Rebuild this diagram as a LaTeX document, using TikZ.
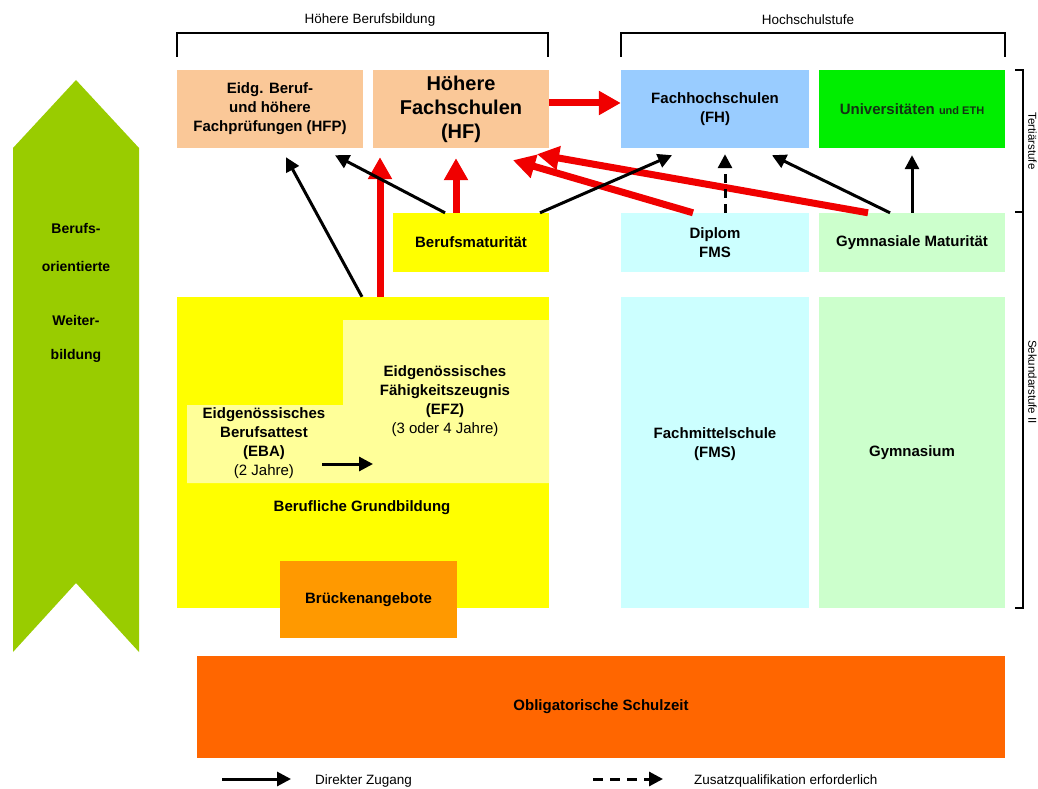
\documentclass[tikz,border=0pt]{standalone}
\usepackage{fontspec}
\setmainfont{Liberation Sans}
\usetikzlibrary{arrows.meta}
\usetikzlibrary{positioning}
\definecolor{peach}{RGB}{250,200,152}
\definecolor{fhblue}{RGB}{153,204,255}
\definecolor{unigreen}{RGB}{0,238,0}
\definecolor{gelb}{RGB}{255,255,0}
\definecolor{hellgelb}{RGB}{255,255,153}
\definecolor{hellcyan}{RGB}{204,255,255}
\definecolor{hellgruen}{RGB}{204,255,204}
\definecolor{brorange}{RGB}{255,153,0}
\definecolor{obligorange}{RGB}{255,102,0}
\definecolor{chevgreen}{RGB}{153,204,0}
\definecolor{pfeilrot}{RGB}{240,0,0}

\begin{document}
\begin{tikzpicture}[x=1pt, y=-1pt,
	box/.style={draw=none, inner sep=0pt, align=center,
		font=\bfseries\fontsize{15}{19}\selectfont},
	txt/.style={inner sep=0pt, align=center, font=\bfseries\fontsize{15}{19}\selectfont},
	small/.style={inner sep=0pt, font=\fontsize{13.5}{16}\selectfont},
	blk/.style={draw=black, line width=3pt, -{Triangle[length=14pt,width=14pt]}},
	rd/.style={draw=pfeilrot, line width=7pt, -{Triangle[length=22pt,width=23pt]}},
	brk/.style={draw=black, line width=1.6pt}]
	\useasboundingbox (0,0) rectangle (1038,789);
	\fill[white] (0,0) rectangle (1038,789);

	% Weiterbildung
	\fill[chevgreen] (13,148) -- (76,80) -- (139,148) -- (139,652) -- (76,583) -- (13,652) -- cycle;
	\node[txt, font=\bfseries\fontsize{14}{17}\selectfont] (wb1) at (76,228) {Berufs-};
	\node[txt, font=\bfseries\fontsize{14}{17}\selectfont] (wb2) at (76,266) {orientierte};
	\node[txt, font=\bfseries\fontsize{14}{17}\selectfont] (wb3) at (76,320) {Weiter-};
	\node[txt, font=\bfseries\fontsize{14}{17}\selectfont] (wb4) at (76,356) {bildung};

	% Klammern oben und rechts
	\draw[brk] (177,57) -- (177,33) -- (548,33) -- (548,57);
	\node[small] (hbb) at (370,20) {Höhere Berufsbildung};
	\draw[brk] (621,57) -- (621,33) -- (1005,33) -- (1005,57);
	\node[small] (hss) at (808,20) {Hochschulstufe};
	\draw[brk] (1015,70) -- (1023,70) -- (1023,608) -- (1015,608);
	\draw[brk] (1015,212) -- (1023,212);
	\node[small, rotate=-90, font=\fontsize{11.5}{13}\selectfont, anchor=north] (ter) at (1037,141) {Tertiärstufe};
	\node[small, rotate=-90, font=\fontsize{11.5}{13}\selectfont, anchor=north] (sek) at (1037,382) {Sekundarstufe II};

	% Tertiaerstufe
	\node[box, fill=peach, minimum width=186pt, minimum height=78pt] (hfp) at (270,109)
		{Eidg. Beruf-\\und höhere\\Fachprüfungen (HFP)};
	\node[box, fill=peach, minimum width=176pt, minimum height=78pt,
		font=\bfseries\fontsize{20}{24}\selectfont] (hf) at (461,109) {Höhere\\Fachschulen\\(HF)};
	\node[box, fill=fhblue, minimum width=188pt, minimum height=78pt] (fh) at (715,109)
		{Fachhochschulen\\(FH)};
	\node[box, fill=unigreen, minimum width=186pt, minimum height=78pt, text={rgb,255:red,20;green,50;blue,20}] (uni) at (912,109)
		{Universitäten {\fontsize{11}{13}\selectfont und ETH}};

	% Abschluesse
	\node[box, fill=gelb, minimum width=156pt, minimum height=59pt] (bm) at (471,242.5) {Berufsmaturität};
	\node[box, fill=hellcyan, minimum width=188pt, minimum height=59pt] (dfms) at (715,242.5) {Diplom\\FMS};
	\node[box, fill=hellgruen, minimum width=186pt, minimum height=59pt] (gm) at (912,242.5) {Gymnasiale Maturität};

	% Sekundarstufe II
	\node[box, fill=gelb, minimum width=372pt, minimum height=311pt] (gb) at (363,452.5) {};
	\fill[hellgelb] (343,320) -- (549,320) -- (549,483) -- (187,483) -- (187,405) -- (343,405) -- cycle;
	\node[txt] (efz) at (445,401) {Eidgenössisches\\Fähigkeitszeugnis\\(EFZ)\\\mdseries(3 oder 4 Jahre)};
	\node[txt] (eba) at (264,443) {Eidgenössisches\\Berufsattest\\(EBA)\\\mdseries(2 Jahre)};
	\coordinate (e1) at (322,464);
	\coordinate (e2) at (373,464);
	\draw[blk] (e1) -- (e2);
	\node[txt] (gbt) at (362,508) {Berufliche Grundbildung};
	\node[box, fill=brorange, minimum width=177pt, minimum height=77pt] (bru) at (368.5,599.5) {Brückenangebote};
	\node[box, fill=hellcyan, minimum width=188pt, minimum height=311pt] (fms) at (715,452.5) {};
	\node[txt] (fmst) at (715,444) {Fachmittelschule\\(FMS)};
	\node[box, fill=hellgruen, minimum width=186pt, minimum height=311pt] (gym) at (912,452.5) {Gymnasium};

	\node[box, fill=obligorange, minimum width=808pt, minimum height=102pt] (obl) at (601,707) {Obligatorische Schulzeit};

	% Zugaenge
	\draw[rd] ([xshift=17pt]gb.north) -- ([xshift=-81pt,yshift=-9pt]hf.south);
	\draw[rd] ([xshift=-15pt]bm.north) -- ([xshift=-5pt,yshift=-10pt]hf.south);
	\draw[rd] ([xshift=-22pt]dfms.north) -- ([xshift=52pt,yshift=-12pt]hf.south);
	\draw[rd] ([xshift=-44pt]gm.north) -- ([xshift=76pt,yshift=-6pt]hf.south);
	\draw[rd] ([yshift=6pt]hf.east) -- ([yshift=6pt]fh.west);
	\draw[blk] ([xshift=-1pt]gb.north) -- ([xshift=16pt,yshift=-9pt]hfp.south);
	\draw[blk] ([xshift=-26pt]bm.north) -- ([xshift=65pt,yshift=-7pt]hfp.south);
	\draw[blk] ([xshift=69pt]bm.north) -- ([xshift=-43pt,yshift=-7pt]fh.south);
	\draw[blk, dash pattern=on 9pt off 6pt] ([xshift=10pt]dfms.north) -- ([xshift=10pt,yshift=-6pt]fh.south);
	\draw[blk] ([xshift=-22pt]gm.north) -- ([xshift=57pt,yshift=-7pt]fh.south);
	\draw[blk] (gm.north) -- ([yshift=-7pt]uni.south);

	% Legende
	\coordinate (l1a) at (222,779);
	\coordinate (l1b) at (291,779);
	\draw[blk] (l1a) -- (l1b);
	\node[small, anchor=west] (leg1) at (315,781) {Direkter Zugang};
	\coordinate (l2a) at (593,779);
	\coordinate (l2b) at (663,779);
	\draw[blk, dash pattern=on 10pt off 7pt] (l2a) -- (l2b);
	\node[small, anchor=west] (leg2) at (694,781) {Zusatzqualifikation erforderlich};
\end{tikzpicture}
\end{document}
